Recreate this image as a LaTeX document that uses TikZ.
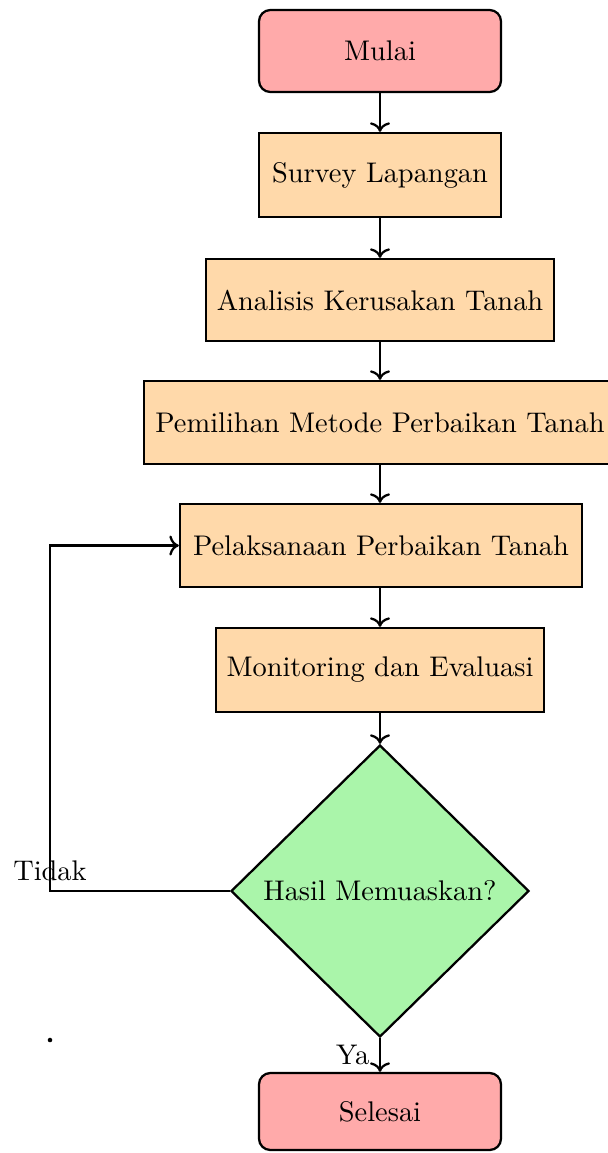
\documentclass[tikz,border=0pt]{standalone}
\usetikzlibrary{shapes.geometric,arrows.meta}
\definecolor{startfill}{RGB}{255,170,170}
\definecolor{procfill}{RGB}{255,217,170}
\definecolor{decfill}{RGB}{170,245,170}
\tikzset{
  startstop/.style={draw, thick, rounded corners=4pt, fill=startfill, minimum width=242*0.352pt, inner sep=2pt},
  process/.style={draw, thick, fill=procfill, inner sep=2pt},
  decision/.style={draw, thick, diamond, fill=decfill, minimum width=298*0.352pt, minimum height=292*0.352pt, inner sep=0pt},
  arr/.style={thick, ->},
}
\begin{document}
\begin{tikzpicture}[x=0.352pt, y=-0.352pt]
\useasboundingbox (0,0) rectangle (608,1153);
\node[startstop, minimum height=82*0.352pt] (start) at (380,51) {Mulai};
\node[process, minimum width=242*0.352pt, minimum height=84*0.352pt] (survey) at (380,175) {Survey Lapangan};
\node[process, minimum width=348*0.352pt, minimum height=82*0.352pt] (anal) at (380,300) {Analisis Kerusakan Tanah};
\node[process, minimum width=472*0.352pt, minimum height=83*0.352pt] (pilih) at (380,422.5) {Pemilihan Metode Perbaikan Tanah};
\node[process, minimum width=402*0.352pt, minimum height=83*0.352pt] (laksana) at (381,545.5) {Pelaksanaan Perbaikan Tanah};
\node[process, minimum width=328*0.352pt, minimum height=84*0.352pt] (monev) at (380,670) {Monitoring dan Evaluasi};
\node[decision] (dec) at (380,891) {Hasil Memuaskan?};
\node[startstop, minimum height=77*0.352pt] (end) at (380,1111.5) {Selesai};
\coordinate (loop) at (50,0);
\draw[arr] (start) -- (survey);
\draw[arr] (survey) -- (anal);
\draw[arr] (anal) -- (pilih);
\draw[arr] (pilih) -- (pilih.south |- laksana.north);
\draw[arr] (laksana.south -| monev.north) -- (monev);
\draw[arr] (monev) -- (dec);
\draw[arr] (dec.south) -- node[left] {Ya} (dec.south |- end.north);
\draw[arr] (dec.west) -- (dec.west -| loop) node[above] {Tidak} |- (laksana.west);
\fill (50,1040) circle (0.8pt);
\end{tikzpicture}
\end{document}
